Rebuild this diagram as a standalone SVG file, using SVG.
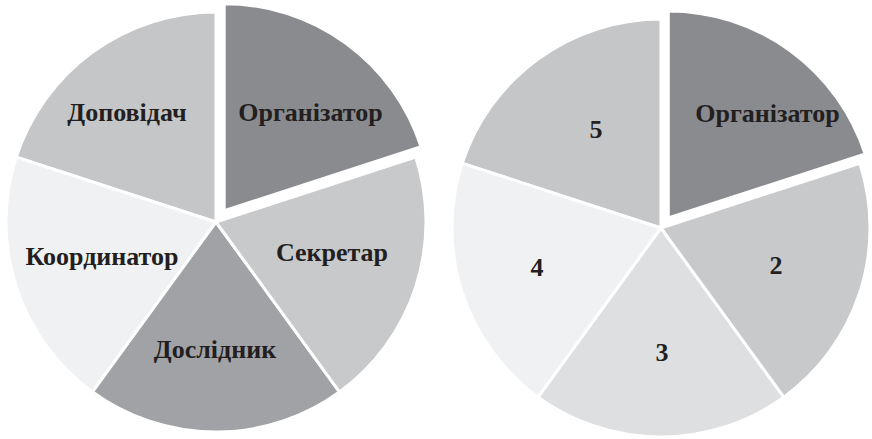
<svg xmlns="http://www.w3.org/2000/svg" width="872" height="439" viewBox="0 0 872 439">
<style>
.s{stroke:#ffffff;stroke-width:3;stroke-linejoin:miter}
.c1{fill:#8a8b8f}
.c2{fill:#c8c9cb}
.c3{fill:#a1a2a6}
.c3b{fill:#dedfe1}
.c4{fill:#f0f1f3}
.c5{fill:#c5c6c8}
text{font-family:"Liberation Serif","Times New Roman",serif;font-weight:bold;font-size:26px;fill:#231f20;text-anchor:middle}
</style>
<rect width="872" height="439" fill="#ffffff"/>
<g id="pie-left">
  <g id="left-dopovidach">
    <path class="s c5" d="M216,222 L16.28,157.11 A210,210 0 0 1 216,12 Z"/>
    <text x="127" y="121">Доповідач</text>
  </g>
  <g id="left-koordynator">
    <path class="s c4" d="M216,222 L92.56,391.89 A210,210 0 0 1 16.28,157.11 Z"/>
    <text x="102" y="265">Координатор</text>
  </g>
  <g id="left-doslidnyk">
    <path class="s c3" d="M216,222 L339.44,391.89 A210,210 0 0 1 92.56,391.89 Z"/>
    <text x="215" y="358">Дослідник</text>
  </g>
  <g id="left-sekretar">
    <path class="s c2" d="M216,222 L415.72,157.11 A210,210 0 0 1 339.44,391.89 Z"/>
    <text x="332" y="261">Секретар</text>
  </g>
  <g id="left-organizator">
    <path class="s c1" d="M224.2,210.7 L224.2,3.7 A207,207 0 0 1 421.07,146.73 Z"/>
    <text x="310.5" y="121">Організатор</text>
  </g>
</g>
<g id="pie-right">
  <g id="right-5">
    <path class="s c5" d="M661,228 L462.23,163.41 A209,209 0 0 1 661,19 Z"/>
    <text x="596" y="138">5</text>
  </g>
  <g id="right-4">
    <path class="s c4" d="M661,228 L538.15,397.09 A209,209 0 0 1 462.23,163.41 Z"/>
    <text x="537" y="276">4</text>
  </g>
  <g id="right-3">
    <path class="s c3b" d="M661,228 L783.85,397.09 A209,209 0 0 1 538.15,397.09 Z"/>
    <text x="662" y="361">3</text>
  </g>
  <g id="right-2">
    <path class="s c2" d="M661,228 L859.77,163.41 A209,209 0 0 1 783.85,397.09 Z"/>
    <text x="776" y="274">2</text>
  </g>
  <g id="right-organizator">
    <path class="s c1" d="M668.3,218 L668.3,11 A207,207 0 0 1 865.17,154.03 Z"/>
    <text x="767.5" y="122">Організатор</text>
  </g>
</g>
<g id="connectors"></g>
</svg>
